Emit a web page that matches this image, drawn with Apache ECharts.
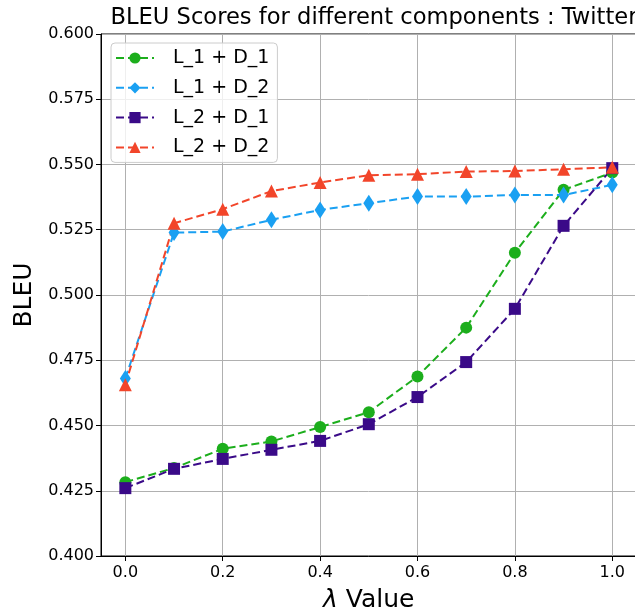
<!DOCTYPE html>
<html>
<head>
<meta charset="utf-8">
<script src="https://cdn.jsdelivr.net/npm/echarts@6/dist/echarts.min.js"></script>
<style>
  html, body { margin: 0; padding: 0; background: #fff; }
  #chart { width: 635px; height: 611px; }
</style>
</head>
<body>
<div id="chart"></div>
<script>
// lambda values on the x axis
var lambdas = [0.0, 0.1, 0.2, 0.3, 0.4, 0.5, 0.6, 0.7, 0.8, 0.9, 1.0];
// BLEU per component combination
var l1d1 = [0.4283, 0.4337, 0.4411, 0.4439, 0.4494, 0.4551, 0.4688, 0.4875, 0.5162, 0.5403, 0.5469];
var l1d2 = [0.4680, 0.5239, 0.5243, 0.5288, 0.5326, 0.5352, 0.5377, 0.5377, 0.5383, 0.5383, 0.5422];
var l2d1 = [0.4260, 0.4334, 0.4372, 0.4407, 0.4441, 0.4505, 0.4609, 0.4743, 0.4947, 0.5265, 0.5486];
var l2d2 = [0.4656, 0.5275, 0.5329, 0.5398, 0.5431, 0.5459, 0.5463, 0.5473, 0.5475, 0.5482, 0.5489];
var seriesNames = ['L_1 + D_1', 'L_1 + D_2', 'L_2 + D_1', 'L_2 + D_2'];
var xTicks = [0.0, 0.2, 0.4, 0.6, 0.8, 1.0];

var chart = echarts.init(document.getElementById('chart'));

function pairs(vals) {
  return vals.map(function (v, i) { return [lambdas[i], v]; });
}

function makeSeries(name, vals, color, symbol, size) {
  return {
    name: name,
    type: 'line',
    data: pairs(vals),
    symbol: symbol,
    symbolSize: size,
    showSymbol: true,
    itemStyle: { color: color },
    lineStyle: { color: color, width: 2, type: [8, 4] },
    emphasis: { disabled: true },
    animation: false
  };
}

var font = 'DejaVu Sans';

chart.setOption({
  backgroundColor: '#fff',
  textStyle: { fontFamily: font },
  title: {
    text: 'BLEU Scores for different components : Twitter',
    left: 369,
    textAlign: 'center',
    top: 2,
    textStyle: { fontFamily: font, fontSize: 22.6, fontWeight: 'normal', color: '#000' }
  },
  legend: {
    orient: 'vertical',
    left: 111,
    top: 43,
    padding: [5, 8, 5, 4],
    itemWidth: 38,
    itemHeight: 14,
    itemGap: 9.8,
    backgroundColor: 'rgba(255,255,255,0.8)',
    borderColor: '#cccccc',
    borderWidth: 1,
    borderRadius: 4,
    textStyle: { fontFamily: font, fontSize: 19, color: '#000', lineHeight: 20, padding: [0, 0, 0, 14] },
    data: seriesNames
  },
  grid: {
    left: 101,
    top: 34,
    width: 535.6,
    height: 522,
    outerBoundsMode: 'none',
    containLabel: false,
    show: true,
    borderColor: '#000',
    borderWidth: 1,
    backgroundColor: 'transparent'
  },
  xAxis: {
    type: 'value',
    min: -0.05,
    max: 1.05,
    name: '{i|λ} Value',
    nameLocation: 'middle',
    nameGap: 32,
    nameTextStyle: {
      fontFamily: font, fontSize: 25, color: '#000',
      rich: { i: { fontFamily: font, fontSize: 25, fontStyle: 'italic', color: '#000' } }
    },
    axisLine: { show: true, onZero: false, lineStyle: { color: '#000', width: 1 } },
    axisTick: { show: true, inside: false, length: 5, customValues: xTicks, lineStyle: { color: '#000' } },
    axisLabel: {
      customValues: xTicks,
      fontFamily: font, fontSize: 16, color: '#000', margin: 9,
      formatter: function (v) { return v.toFixed(1); }
    },
    splitLine: { show: true, lineStyle: { color: '#b0b0b0', width: 1 } }
  },
  yAxis: {
    type: 'value',
    min: 0.4,
    max: 0.6,
    interval: 0.025,
    name: 'BLEU',
    nameLocation: 'middle',
    nameGap: 58,
    nameTextStyle: { fontFamily: font, fontSize: 25, color: '#000' },
    axisLine: { show: true, onZero: false, lineStyle: { color: '#000', width: 1 } },
    axisTick: { show: true, inside: false, length: 5, lineStyle: { color: '#000' } },
    axisLabel: {
      fontFamily: font, fontSize: 16, color: '#000', margin: 7,
      formatter: function (v) { return v.toFixed(3); }
    },
    splitLine: { show: true, lineStyle: { color: '#b0b0b0', width: 1 } }
  },
  series: [
    makeSeries(seriesNames[0], l1d1, '#1cae1c', 'circle', 12),
    makeSeries(seriesNames[1], l1d2, '#1aa0f2', 'diamond', [11, 17]),
    makeSeries(seriesNames[2], l2d1, '#3a0a88', 'rect', 12),
    makeSeries(seriesNames[3], l2d2, '#f2452a', 'triangle', 13)
  ]
});
</script>
</body>
</html>
